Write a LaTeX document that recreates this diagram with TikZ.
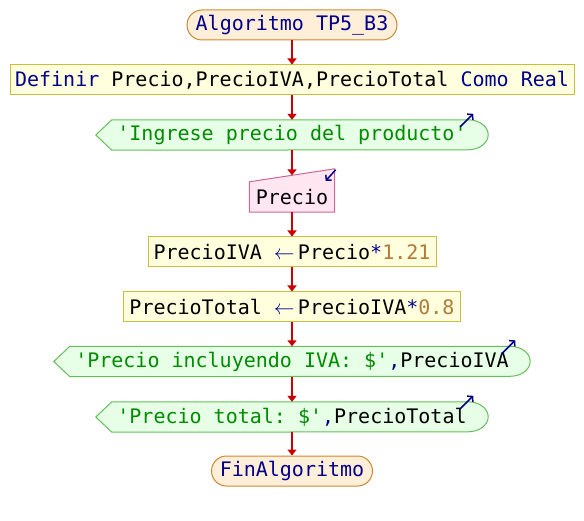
\documentclass[tikz,border=0pt]{standalone}
\usepackage{fontspec}
\setmonofont{DejaVu Sans Mono}
\usetikzlibrary{positioning,calc,arrows.meta,backgrounds}
\definecolor{kw}{HTML}{00008C}
\definecolor{str}{HTML}{008C00}
\definecolor{num}{HTML}{B47838}
\definecolor{termfill}{HTML}{FFEFD8}
\definecolor{termline}{HTML}{CC8833}
\definecolor{procfill}{HTML}{FFFFDD}
\definecolor{procline}{HTML}{C8BE3C}
\definecolor{outfill}{HTML}{E6FFE6}
\definecolor{outline}{HTML}{64BE5A}
\definecolor{infill}{HTML}{FFE6F0}
\definecolor{inline}{HTML}{CC6699}
\definecolor{flowred}{HTML}{CC0000}
\newcommand{\asigna}{\textcolor{kw}{\makebox[24pt][l]{$\leftarrow$}}}
\tikzset{>={Triangle[width=9pt,length=6pt]}}
\tikzset{
  pse/.style={inner sep=0pt,minimum height=30pt,font=\ttfamily\fontsize{20}{24}\selectfont},
  term/.style={pse,draw=termline,fill=termfill,line width=1pt,rounded corners=15pt},
  proc/.style={pse,draw=procline,fill=procfill,line width=1pt},
  outbox/.style={draw=outline,fill=outfill,line width=1pt},
  inbox/.style={draw=inline,fill=infill,line width=1pt},
  flow/.style={->,draw=flowred,line width=2pt},
  icon/.style={-{Straight Barb[length=3.5pt,width=8pt]},draw=kw,line width=1.5pt}
}

\begin{document}
\begin{tikzpicture}[x=1pt,y=-1pt]
\useasboundingbox (0,0) rectangle (584,521);
\node[term,minimum width=210pt] (inicio) at (292,25) {\textcolor{kw}{Algoritmo TP5\_B3}};
\node[proc,minimum width=564pt] (definir) at (292,80) {\textcolor{kw}{Definir} Precio,PrecioIVA,PrecioTotal \textcolor{kw}{Como Real}};
\node[pse,minimum width=392pt] (escribir1) at (292,135) {\textcolor{str}{'Ingrese precio del producto'}};
\node[pse,minimum width=85pt] (leer) at (292,197) {Precio};
\coordinate (leertop) at ($(leer.north)+(0,-6.5)$);
\node[proc,minimum width=288pt] (asig1) at (292,252) {PrecioIVA \asigna Precio\textcolor{kw}{*}\textcolor{num}{1.21}};
\node[proc,minimum width=337pt] (asig2) at (292,307) {PrecioTotal \asigna PrecioIVA\textcolor{kw}{*}\textcolor{num}{0.8}};
\node[pse,minimum width=476pt] (escribir2) at (292,361.5) {\textcolor{str}{'Precio incluyendo IVA: \$'}\textcolor{kw}{,}PrecioIVA};
\node[pse,minimum width=392pt] (escribir3) at (292,417) {\textcolor{str}{'Precio total: \$'}\textcolor{kw}{,}PrecioTotal};
\node[term,minimum width=161pt] (fin) at (292,471) {\textcolor{kw}{FinAlgoritmo}};
\begin{scope}[on background layer]
\foreach \o in {escribir1,escribir2,escribir3}
  \draw[outbox] (\o.west) -- ($(\o.north west)+(16,0)$) -- ($(\o.north east)+(-20,0)$)
    arc[start angle=90,end angle=-90,x radius=20pt,y radius=15pt] -- ($(\o.south west)+(16,0)$) -- cycle;
\draw[inbox] (leer.south west) -- (leer.north west) -- ($(leer.north east)+(0,-13)$) -- (leer.south east) -- cycle;
\end{scope}
\foreach \o in {escribir1,escribir2,escribir3}
  \draw[icon] ($(\o.north east)+(-28,7)$) -- ($(\o.north east)+(-15,-6)$);
\draw[icon] ($(leer.north east)+(1,-12)$) -- ($(leer.north east)+(-9,-1)$);
\draw[flow] (inicio.south) -- (definir.north);
\draw[flow] (definir.south) -- (escribir1.north);
\draw[flow] (escribir1.south) -- (leertop);
\draw[flow] (leer.south) -- (asig1.north);
\draw[flow] (asig1.south) -- (asig2.north);
\draw[flow] (asig2.south) -- (escribir2.north);
\draw[flow] (escribir2.south) -- (escribir3.north);
\draw[flow] (escribir3.south) -- (fin.north);
\end{tikzpicture}
\end{document}
